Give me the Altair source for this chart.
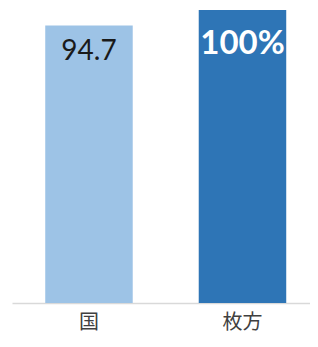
import altair as alt
import pandas as pd

categories = ["国", "枚方"]
values = [94.7, 100]
labels = ["94.7", "100%"]
colors = ["#9DC3E6", "#2E75B6"]

df = pd.DataFrame({"cat": categories, "val": values, "label": labels})

x = alt.X("cat:N", sort=categories, title=None,
          scale=alt.Scale(paddingInner=0.43, paddingOuter=0.1857, align=0.583),
          axis=alt.Axis(labelAngle=0, ticks=False, domainColor="#d9d9d9", domainWidth=1.5,
                        labelFontSize=20, labelColor="#404040", labelPadding=9,
                        labelFont="Noto Sans CJK JP"))
y = alt.Y("val:Q", title=None, scale=alt.Scale(domain=[0, 100], nice=False), axis=None)

bars = alt.Chart(df).mark_bar().encode(
    x=x, y=y,
    color=alt.Color("cat:N", scale=alt.Scale(domain=categories, range=colors), legend=None),
)

t1 = alt.Chart(df).transform_filter(alt.datum.cat == "国").mark_text(
    dy=26, fontSize=28, color="#1a1a1a", font="Lato"
).encode(x=alt.X("cat:N", sort=categories), y="val:Q", text="label:N")

t2 = alt.Chart(df).transform_filter(alt.datum.cat == "枚方").mark_text(
    dy=34, fontSize=33, fontWeight="bold", color="white", font="Lato"
).encode(x=alt.X("cat:N", sort=categories), y="val:Q", text="label:N")

chart = (bars + t1 + t2).properties(
    width=298, height=293,
    padding={"left": 4, "top": 2, "right": 0, "bottom": 3},
).configure_view(stroke=None)

chart.save("out.html", embed_options={"renderer": "svg", "actions": False})
